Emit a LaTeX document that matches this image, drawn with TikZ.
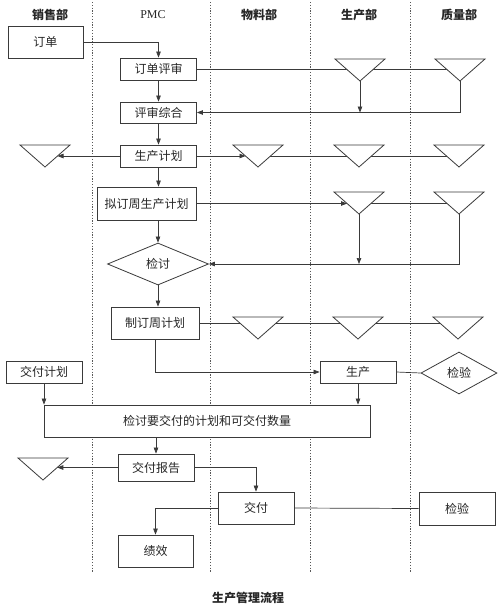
\documentclass[tikz,border=0pt]{standalone}
\usepackage{fontspec}
\setmainfont{Liberation Serif}
\newfontfamily\cjk{Noto Sans CJK SC}
\usetikzlibrary{shapes.geometric,arrows.meta,calc,backgrounds}
\definecolor{lc}{HTML}{3A3A3A}
\definecolor{tc}{HTML}{262626}
\newcommand\invtri[3]{%
  \coordinate (#1-nw) at ({#2-25},#3);
  \coordinate (#1-ne) at ({#2+25},#3);
  \coordinate (#1-s) at (#2,{#3+22});
  \draw[tri] (#1-nw) -- (#1-s) -- (#1-ne) -- cycle;}
\begin{document}
\begin{tikzpicture}[x=1pt,y=-1pt,
  box/.style={draw=lc, fill=white, line width=0.8pt, inner sep=0pt, text=tc, font=\cjk\fontsize{12}{14}\selectfont},
  dia/.style={box, diamond},
  arr/.style={draw=lc, line width=0.7pt, -{Triangle[length=6pt,width=4.5pt]}},
  ln/.style={draw=lc, line width=0.7pt},
  lane/.style={draw=gray!70!black, line width=0.7pt, dash pattern=on 1.2pt off 1.6pt},
  tri/.style={draw=lc, fill=white, line width=0.8pt, line join=miter},
  hdr/.style={text=tc, font=\cjk\bfseries\fontsize{12}{14}\selectfont}]
\useasboundingbox (0,0) rectangle (500,606);

% headers
\node[hdr] (h1) at (50,15) {销售部};
\node[text=tc, font=\fontsize{12}{14}\selectfont] (h2) at (153,15) {PMC};
\node[hdr] (h3) at (259,15) {物料部};
\node[hdr] (h4) at (359,15) {生产部};
\node[hdr] (h5) at (459,15) {质量部};

% boxes
\node[box, minimum width=75pt, minimum height=32pt] (dingdan) at (45.5,42) {订单};
\node[box, minimum width=76pt, minimum height=22pt] (ddps) at (158.5,69) {订单评审};
\node[box, minimum width=76pt, minimum height=21pt] (pszh) at (158.5,112.5) {评审综合};
\node[box, minimum width=76pt, minimum height=22pt] (scjh) at (158.5,156) {生产计划};
\node[box, minimum width=99pt, minimum height=33pt] (nd) at (146.5,203.5) {拟订周生产计划};
\node[dia, minimum width=101pt, minimum height=42pt] (jt) at (158,264) {检讨};
\node[box, minimum width=88pt, minimum height=32pt] (zd) at (155,323) {制订周计划};
\node[box, minimum width=76pt, minimum height=22pt] (jfjh) at (44,372) {交付计划};
\node[box, minimum width=326pt, minimum height=32pt] (big) at (207,421) {检讨要交付的计划和可交付数量};
\node[box, minimum width=76pt, minimum height=22pt] (sc) at (358,372) {生产};
\node[dia, minimum width=76pt, minimum height=42pt] (jy1) at (459,373) {检验};
\node[box, minimum width=76pt, minimum height=27pt] (jfbg) at (156,467.5) {交付报告};
\node[box, minimum width=76pt, minimum height=32pt] (jf) at (256,508) {交付};
\node[box, minimum width=76pt, minimum height=33pt] (jy2) at (457,508.5) {检验};
\node[box, minimum width=75pt, minimum height=32pt] (jx) at (155.5,551) {绩效};

% caption
\node[hdr] (cap) at (248,598) {生产管理流程};

% triangles
\invtri{T1}{360}{59}
\invtri{T2}{460}{59}
\invtri{S0}{45}{145}
\invtri{S1}{258}{145}
\invtri{S2}{359}{145}
\invtri{S3}{459}{145}
\invtri{R1}{359}{192}
\invtri{R2}{459}{192}
\invtri{Q1}{258}{317}
\invtri{Q2}{358}{317}
\invtri{Q3}{458}{317}
\invtri{P0}{43}{458}

\coordinate (S0e) at ($(S0-ne)!0.5!(S0-s)$);
\coordinate (S1e) at ($(S1-nw)!0.5!(S1-s)$);
\coordinate (R1e) at ($(R1-nw)!0.523!(R1-s)$);
\coordinate (P0e) at ($(P0-ne)!0.43!(P0-s)$);

\begin{scope}[on background layer]
  % lanes
  \foreach \lx/\nm in {92/a,210/b,310/c,410/d} {
    \coordinate (lt\nm) at (\lx,2);
    \coordinate (lb\nm) at (\lx,572);
    \draw[lane] (lt\nm) -- (lb\nm);
  }
  % PMC column
  \draw[arr] (dingdan.east) -| (ddps.north);
  \draw[arr] (ddps.south) -- (pszh.north);
  \draw[arr] (pszh.south) -- (scjh.north);
  \draw[arr] (scjh.south) -- (scjh.south |- nd.north);
  \draw[arr] (jt.north |- nd.south) -- (jt.north);
  \draw[arr] (jt.south) -- (jt.south |- zd.north);
  % row 1
  \draw[ln] (ddps.east) -- (ddps.east -| T2-s);
  \draw[arr] (T1-s) -- (T1-s |- pszh.east);
  \draw[arr] (T2-s) |- (pszh.east);
  % row 2
  \draw[arr] (scjh.west) -- (scjh.west -| S0e);
  \draw[arr] (scjh.east) -- (scjh.east -| S1e);
  \draw[ln] (scjh.east -| S1-s) -- (scjh.east -| S3-s);
  % row 3
  \draw[arr] (nd.east) -- (nd.east -| R1e);
  \draw[ln] (nd.east -| R1-s) -- (nd.east -| R2-s);
  \draw[arr] (R1-s) -- (R1-s |- jt.east);
  \draw[arr] (R2-s) |- (jt.east);
  % row 4
  \draw[ln] (zd.east) -- (zd.east -| Q3-s);
  \draw[arr] (zd.south) |- (sc.west);
  \draw[arr] (sc.south) -- (sc.south |- big.north);
  \draw[ln] (sc.east) -- (jy1.west);
  \draw[arr] (jfjh.south) -- (jfjh.south |- big.north);
  % bottom
  \draw[arr] (jfbg.north |- big.south) -- (jfbg.north);
  \draw[arr] (jfbg.west) -- (jfbg.west -| P0e);
  \draw[arr] (jfbg.east) -| (jf.north);
  \draw[arr] (jf.west) -| (jx.north);
  \draw[ln] (jf.east) -- (jy2.west);
\end{scope}
\end{tikzpicture}
\end{document}
